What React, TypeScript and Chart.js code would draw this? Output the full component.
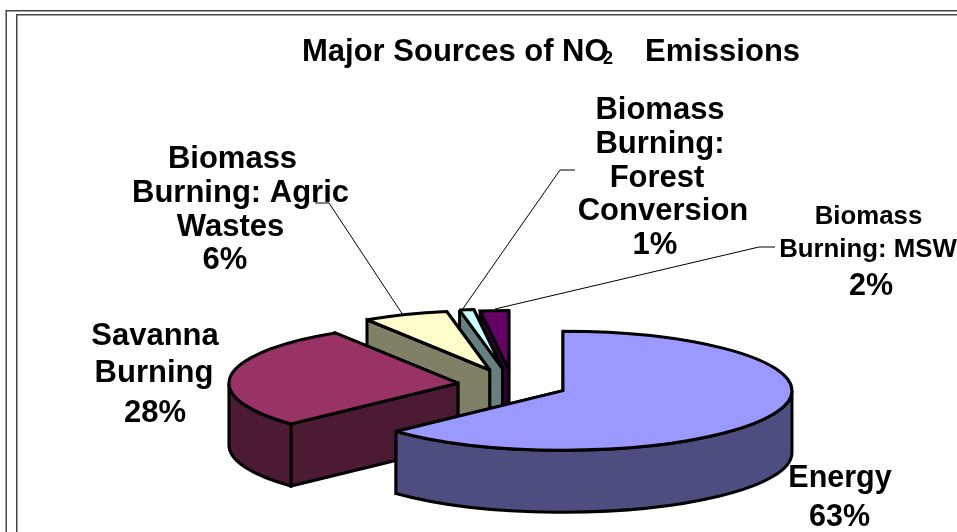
import React, { useEffect, useRef } from "react";
import Chart from "chart.js/auto";

// Emission shares, clockwise from twelve o'clock.
const sourceNames = [
  ["Energy"],
  ["Savanna", "Burning"],
  ["Biomass", "Burning: Agric", "Wastes"],
  ["Biomass", "Burning:", "Forest", "Conversion"],
  ["Biomass", "Burning: MSW"],
];
const shares = [63, 28, 6, 1, 2];
const topColors = ["#9999FF", "#993366", "#FFFFCC", "#CCFFFF", "#660066"];
const wallColors = ["#4D4D80", "#4D1A33", "#808066", "#668080", "#330033"];

// How far each slice is pulled out of the pie, in unsquashed pixels.
const explode = [55, 55, 62, 64, 58];

const PIE_RADIUS = 229;
const SQUASH = 0.26;
const DEPTH = 62;
const CENTER_X = 512.5;
const CENTER_Y = 385;

const FONT = '"Liberation Sans", Arial, sans-serif';

// Label placement: one centre and one baseline per line, the name size, the percentage size.
const labelBlocks = [
  { xs: [840, 839.5], ys: [486.5, 526], size: 30.5, pct: 30.5 },
  { xs: [155, 154, 155], ys: [344.5, 381.5, 422], size: 31, pct: 31 },
  { xs: [232.5, 240.5, 230.5, 225], ys: [168, 201.5, 235.5, 268.5], size: 31, pct: 31 },
  { xs: [660, 660, 657, 663, 655], ys: [118.5, 152.5, 186.5, 219.5, 254], size: 31, pct: 31 },
  { xs: [868.5, 868, 871], ys: [224, 257, 295], size: 25.8, pct: 30.5 },
];

// Leader lines from label to slice.
const leaders = [
  [[315, 203], [329, 203], [403, 315]],
  [[575, 170], [560, 170], [462, 310]],
  [[775, 247], [759, 247], [495, 309]],
];

const pie3d = {
  id: "pie3d",
  beforeDatasetsDraw(chart: any) {
    const ctx: CanvasRenderingContext2D = chart.ctx;
    const arcs = chart.getDatasetMeta(0).data;

    ctx.save();
    ctx.fillStyle = "#fff";
    ctx.fillRect(0, 0, chart.width, chart.height);

    // Double frame; it runs off the right and bottom of the canvas.
    ctx.strokeStyle = "#444";
    ctx.lineWidth = 1.5;
    ctx.strokeRect(6.25, 10.75, 1000, 600);
    ctx.strokeRect(16.75, 14.75, 1000, 600);

    // Leaders go underneath the slices.
    ctx.strokeStyle = "#000";
    ctx.lineWidth = 1;
    for (const path of leaders) {
      ctx.beginPath();
      path.forEach(([x, y], i) => (i ? ctx.lineTo(x, y) : ctx.moveTo(x, y)));
      ctx.stroke();
    }

    ctx.lineJoin = "miter";
    ctx.miterLimit = 2;
    ctx.lineWidth = 3;

    // Back slices first so the nearer ones overlap them.
    const order = [4, 3, 2, 1, 0];
    for (const i of order) {
      const { x, y, startAngle, endAngle, outerRadius } = arcs[i].getProps(
        ["x", "y", "startAngle", "endAngle", "outerRadius"],
        true
      );
      const mid = (startAngle + endAngle) / 2;
      const cx = x + Math.cos(mid) * explode[i];
      const cy = y + Math.sin(mid) * explode[i] * SQUASH;
      const rx = outerRadius;
      const ry = outerRadius * SQUASH;
      const rim = (a: number) => [cx + Math.cos(a) * rx, cy + Math.sin(a) * ry];

      ctx.strokeStyle = "#000";
      ctx.fillStyle = wallColors[i];

      // Radial faces: the far one, then the near one.
      for (const a of [endAngle, startAngle]) {
        const [px, py] = rim(a);
        ctx.beginPath();
        ctx.moveTo(cx, cy);
        ctx.lineTo(px, py);
        ctx.lineTo(px, py + DEPTH);
        ctx.lineTo(cx, cy + DEPTH);
        ctx.closePath();
        ctx.fill();
        ctx.stroke();
      }

      // Curved outer wall, only where the rim faces the viewer.
      const from = Math.max(startAngle, 0);
      const to = Math.min(endAngle, Math.PI);
      if (from < to) {
        ctx.beginPath();
        ctx.ellipse(cx, cy, rx, ry, 0, from, to);
        ctx.ellipse(cx, cy + DEPTH, rx, ry, 0, to, from, true);
        ctx.closePath();
        ctx.fill();
        ctx.stroke();
      }

      // Top surface.
      ctx.fillStyle = topColors[i];
      ctx.beginPath();
      ctx.moveTo(cx, cy);
      ctx.ellipse(cx, cy, rx, ry, 0, startAngle, endAngle);
      ctx.closePath();
      ctx.fill();
      ctx.stroke();
    }

    // Slice labels with their percentages.
    ctx.fillStyle = "#000";
    ctx.textAlign = "center";
    ctx.textBaseline = "alphabetic";
    const total = shares.reduce((a, b) => a + b, 0);
    sourceNames.forEach((lines, i) => {
      const block = labelBlocks[i];
      ctx.font = `bold ${block.size}px ${FONT}`;
      lines.forEach((line, n) => ctx.fillText(line, block.xs[n], block.ys[n]));
      ctx.font = `bold ${block.pct}px ${FONT}`;
      const n = lines.length;
      ctx.fillText(`${Math.round((shares[i] / total) * 100)}%`, block.xs[n], block.ys[n]);
    });

    // Title, with the subscript tucked under the O.
    ctx.textAlign = "left";
    ctx.font = `bold 31px ${FONT}`;
    ctx.fillText("Major Sources of NO", 302, 60.5);
    ctx.fillText("Emissions", 645, 60.5);
    ctx.font = `bold 18px ${FONT}`;
    ctx.fillText("2", 603, 64);

    ctx.restore();
    return false;
  },
};

export default function App() {
  const ref = useRef<HTMLCanvasElement>(null);

  useEffect(() => {
    document.body.style.margin = "0";
    const chart = new Chart(ref.current!, {
      type: "pie",
      data: {
        labels: sourceNames.map((l) => l.join(" ")),
        datasets: [
          {
            data: shares,
            backgroundColor: topColors,
            radius: PIE_RADIUS,
          },
        ],
      },
      options: {
        responsive: false,
        animation: false,
        layout: {
          padding: {
            left: 2 * CENTER_X - 957,
            top: 2 * CENTER_Y - 532,
          },
        },
        plugins: {
          legend: { display: false },
          tooltip: { enabled: false },
        },
      },
      plugins: [pie3d],
    });
    return () => chart.destroy();
  }, []);

  return (
    <canvas
      ref={ref}
      width={957}
      height={532}
      style={{ display: "block", width: 957, height: 532 }}
    />
  );
}
